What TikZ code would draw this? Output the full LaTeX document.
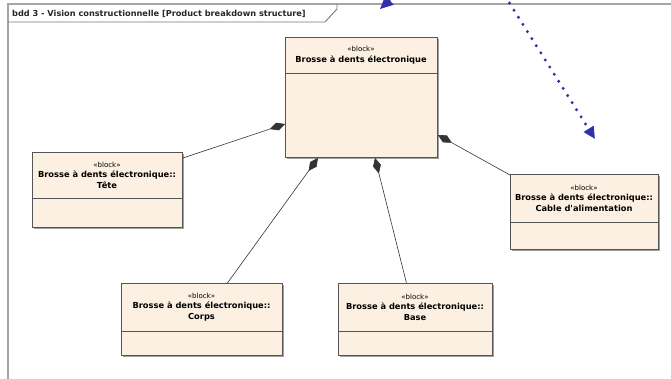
\documentclass[tikz,border=0pt]{standalone}
\usepackage{fontspec}
\setmainfont{DejaVu Sans}
\usetikzlibrary{arrows.meta,calc,shadows}

\definecolor{blockfill}{RGB}{251,240,225}
\definecolor{blockline}{RGB}{85,85,85}
\definecolor{frameline}{RGB}{165,165,165}
\definecolor{labelline}{RGB}{120,120,120}
\definecolor{noteblue}{RGB}{48,48,170}
\definecolor{shadowgray}{RGB}{160,160,160}

\begin{document}
\begin{tikzpicture}[x=1pt,y=-1pt,
  blockbox/.style={draw=blockline, fill=blockfill, line width=0.9pt, inner sep=0pt,
    anchor=north west,
    drop shadow={shadow xshift=2pt, shadow yshift=-2pt, fill=shadowgray, opacity=1}},
  sepline/.style={draw=blockline, line width=0.9pt},
  hdr/.style={align=center, inner sep=0pt, text=black,
    font=\fontsize{8.3}{10.5}\selectfont\bfseries},
  compo/.style={draw=black!80, line width=0.6pt,
    {Diamond[length=16pt,width=8pt]}-},
  frame/.style={draw=frameline, line width=1.6pt},
  framelabel/.style={draw=labelline, line width=0.9pt},
  dotarrow/.style={draw=noteblue, line width=3.3pt, line cap=round,
    dash pattern=on 0pt off 8.4pt, -{Triangle[length=12pt,width=11pt]}},
  solidarrow/.style={draw=noteblue, line width=1.4pt, -{Triangle[length=13pt,width=12pt]}}
]
\useasboundingbox (0,0) rectangle (671,378);
\clip (0,0) rectangle (671,378);
\fill[white] (0,0) rectangle (671,378);

% diagram frame and its name tag
\draw[frame] (8,380) -- (8,4) -- (675,4);
\draw[framelabel] (8,22) -- (325,22) -- (337,9) -- (337,4);
\node[anchor=west, inner sep=0pt, font=\fontsize{8.2}{9}\selectfont\bfseries,
  text=black!85] (title) at (12,13.5)
  {bdd 3 - Vision constructionnelle [Product breakdown structure]};

% blocks
\node[blockbox, minimum width=152pt, minimum height=120pt] (main) at (285,37) {};
\node[blockbox, minimum width=150pt, minimum height=75pt] (tete) at (32,152) {};
\node[blockbox, minimum width=148pt, minimum height=75pt] (cable) at (510,174) {};
\node[blockbox, minimum width=161pt, minimum height=72pt] (corps) at (121,283) {};
\node[blockbox, minimum width=154pt, minimum height=72pt] (base) at (338,283) {};

% compartment separators
\draw[sepline] ($(main.north west)+(0,36)$) -- ($(main.north east)+(0,36)$);
\draw[sepline] ($(tete.north west)+(0,46)$) -- ($(tete.north east)+(0,46)$);
\draw[sepline] ($(cable.north west)+(0,48)$) -- ($(cable.north east)+(0,48)$);
\draw[sepline] ($(corps.north west)+(0,48)$) -- ($(corps.north east)+(0,48)$);
\draw[sepline] ($(base.north west)+(0,48)$) -- ($(base.north east)+(0,48)$);

% block headers
\newcommand{\stereo}{{\fontsize{7}{9}\selectfont\mdseries «block»}}
\node[hdr] (mainhdr) at (361,55) {\stereo\\Brosse à dents électronique};
\node[hdr] (tetehdr) at (107,175) {\stereo\\Brosse à dents électronique::\\Tête};
\node[hdr] (cablehdr) at (584,198) {\stereo\\Brosse à dents électronique::\\Cable d\textquotesingle alimentation};
\node[hdr] (corpshdr) at (201.5,307) {\stereo\\Brosse à dents électronique::\\Corps};
\node[hdr] (basehdr) at (415,307) {\stereo\\Brosse à dents électronique::\\Base};

% composition links
\draw[compo] ($(main.north west)+(0,87)$) -- ($(tete.north east)+(0,6)$);
\draw[compo] ($(main.south west)+(33,0)$) -- ($(corps.north)+(25.5,0)$);
\draw[compo] ($(main.south west)+(90,0)$) -- ($(base.north)+(-9,0)$);
\draw[compo] ($(main.north east)+(0,98)$) -- ($(cable.north west)+(0,1)$);

% blue arrows coming in from above
\coordinate (dotstart) at (505,-4);
\coordinate (dottip) at (595,139);
\draw[dotarrow] (dotstart) -- (dottip);
\coordinate (solidstart) at (405,-14);
\coordinate (solidtip) at (380,9);
\draw[solidarrow] (solidstart) -- (solidtip);
\end{tikzpicture}
\end{document}
